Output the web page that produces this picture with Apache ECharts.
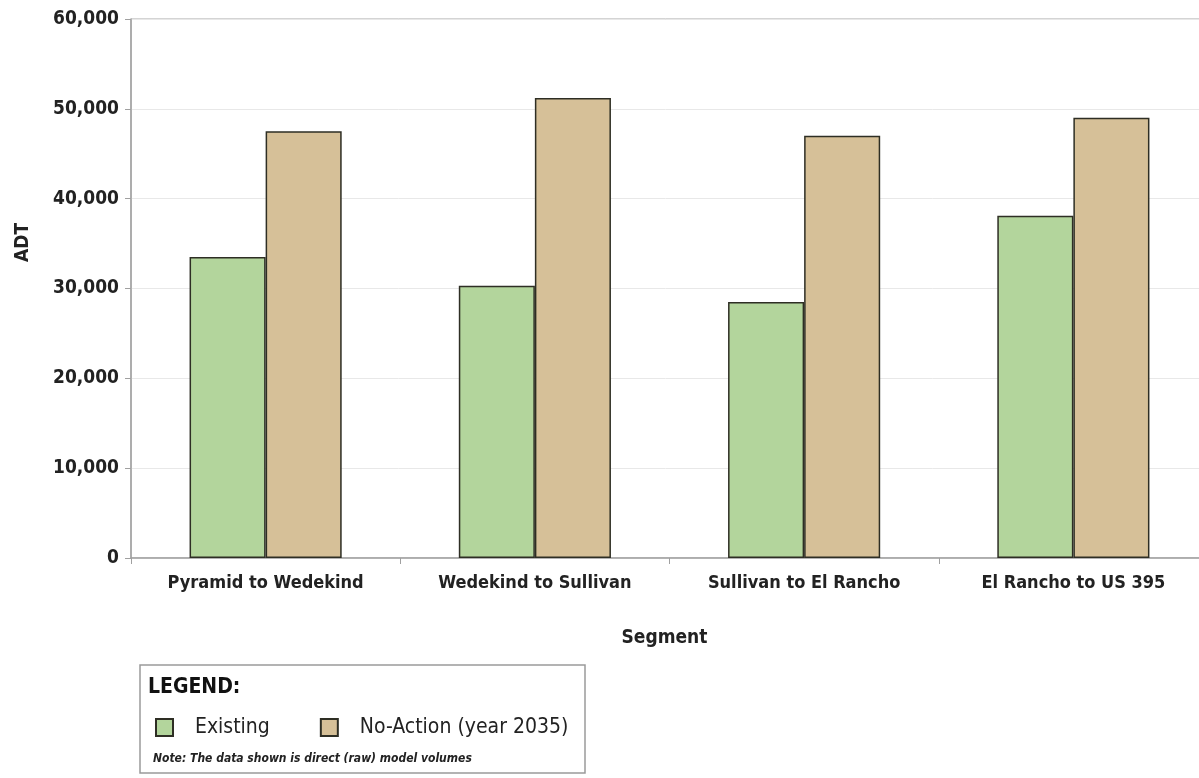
<!DOCTYPE html>
<html>
<head>
<meta charset="utf-8">
<script src="https://cdn.jsdelivr.net/npm/echarts@6/dist/echarts.min.js"></script>
<style>
html,body{margin:0;padding:0;background:#fff;}
#chart{width:1199px;height:778px;}
</style>
</head>
<body>
<div id="chart"></div>
<script>
const categories = ['Pyramid to Wedekind', 'Wedekind to Sullivan', 'Sullivan to El Rancho', 'El Rancho to US 395'];
const existing = [33500, 30300, 28500, 38100];
const noAction = [47500, 51200, 47000, 49000];
const seriesNames = ['Existing', 'No-Action (year 2035)'];
const yTicks = { min: 0, max: 60000, interval: 10000 };

const FONT = '"Liberation Sans Narrow", "DejaVu Sans Condensed", "Arial Narrow", sans-serif';
const chart = echarts.init(document.getElementById('chart'), null, { renderer: 'canvas' });

chart.setOption({
  animation: false,
  backgroundColor: '#fff',
  textStyle: { fontFamily: FONT },
  grid: {
    left: 131, top: 19, width: 1077, height: 539,
    outerBoundsMode: 'none',
    containLabel: false,
    show: true, borderColor: '#a8a8a8', borderWidth: 1, backgroundColor: 'transparent'
  },
  legend: {
    left: 150, top: 712,
    itemWidth: 17, itemHeight: 17, itemGap: 50,
    icon: 'rect',
    data: seriesNames,
    textStyle: { fontFamily: FONT, fontSize: 21, color: '#222', padding: [0, 0, 0, 17] },
    selectedMode: false
  },
  xAxis: {
    type: 'category',
    data: categories,
    name: 'Segment',
    nameLocation: 'middle',
    nameGap: 71,
    nameTextStyle: { fontFamily: FONT, fontSize: 19, fontWeight: 'bold', color: '#222', padding: [0, 10, 0, 0] },
    axisLine: { show: true, lineStyle: { color: '#a0a0a0', width: 1.5 } },
    axisTick: { show: true, length: 6, lineStyle: { color: '#a0a0a0' } },
    axisLabel: { fontFamily: FONT, fontSize: 18, fontWeight: 'bold', color: '#222', margin: 16 }
  },
  yAxis: {
    type: 'value',
    min: yTicks.min, max: yTicks.max, interval: yTicks.interval,
    name: 'ADT',
    nameLocation: 'middle',
    nameGap: 98,
    nameTextStyle: { fontFamily: FONT, fontSize: 19, fontWeight: 'bold', color: '#222', padding: [0, 0, 0, 92] },
    axisLine: { show: true, lineStyle: { color: '#a0a0a0', width: 1.5 } },
    axisTick: { show: true, length: 6, lineStyle: { color: '#a0a0a0' } },
    axisLabel: {
      fontFamily: FONT, fontSize: 19, fontWeight: 'bold', color: '#222', margin: 12,
      formatter: v => v.toLocaleString('en-US')
    },
    splitLine: { show: true, lineStyle: { color: '#e8e8e8', width: 1 } }
  },
  series: [
    {
      name: seriesNames[0], type: 'bar', data: existing,
      barGap: '0%', barCategoryGap: '43.5%',
      itemStyle: { color: '#b3d59c', borderColor: '#2e2e24', borderWidth: 1.5 }
    },
    {
      name: seriesNames[1], type: 'bar', data: noAction,
      barGap: '0%', barCategoryGap: '43.5%',
      itemStyle: { color: '#d6c098', borderColor: '#2e2e24', borderWidth: 1.5 }
    }
  ],
  graphic: [
    {
      type: 'rect', z: -1, silent: true,
      shape: { x: 140, y: 665, width: 445, height: 108 },
      style: { fill: '#fff', stroke: '#9a9a9a', lineWidth: 1.5 }
    },
    {
      type: 'text', silent: true, x: 148, y: 688,
      style: { text: 'LEGEND:', font: 'bold 21px ' + FONT, fill: '#111', verticalAlign: 'middle' }
    },
    {
      type: 'text', silent: true, x: 153, y: 759,
      style: { text: 'Note: The data shown is direct (raw) model volumes', font: 'italic bold 12px ' + FONT, fill: '#222', verticalAlign: 'middle' }
    }
  ]
});
</script>
</body>
</html>
